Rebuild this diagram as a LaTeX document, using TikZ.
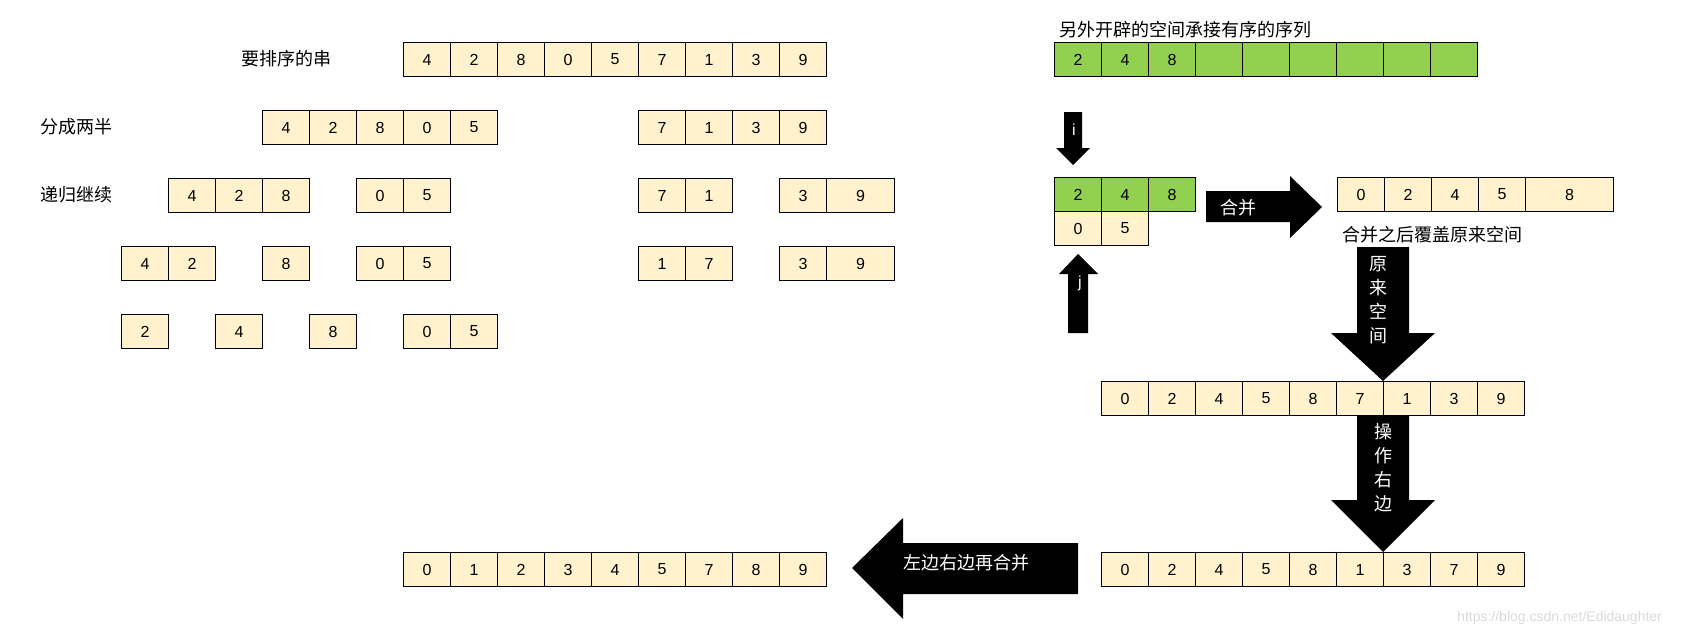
\documentclass[tikz,border=0pt]{standalone}
\usepackage{fontspec}
\setmainfont{Liberation Sans}
\newfontfamily\cjk{Noto Sans CJK SC}
\definecolor{cellyellow}{HTML}{FFF2CC}
\definecolor{cellgreen}{HTML}{92D050}
\begin{document}
\begin{tikzpicture}[x=1pt,y=-1pt,
  cell/.style={draw,line width=1.1pt,fill=cellyellow,minimum width=47pt,minimum height=34pt,
    inner sep=0pt,anchor=north west,font=\fontsize{16}{16}\selectfont},
  greencell/.style={cell,fill=cellgreen},
  widecell/.style={cell,minimum width=#1},
  hanzi/.style={font=\cjk\fontsize{18}{18}\selectfont,inner sep=0pt},
  blocktext/.style={font=\cjk\fontsize{18}{24}\selectfont,text=white,align=center,inner sep=0pt},
  block/.style={fill=black}]
\useasboundingbox (0,0) rectangle (1699,637);
% left: splitting
\node[hanzi,anchor=west] (tsort) at (241,59) {要排序的串};
\node[hanzi,anchor=west] (thalf) at (40,127) {分成两半};
\node[hanzi,anchor=west] (trec) at (40,195) {递归继续};
\foreach \v [count=\k from 0] in {4,2,8,0,5,7,1,3,9}
  \node[cell] (a\k) at ({403+47*\k},42) {\v};
\foreach \i/\v in {3/4,4/2,5/8,6/0,7/5,11/7,12/1,13/3,14/9}
  \node[cell] (b\i) at ({121+47*\i},110) {\v};
\foreach \i/\v in {1/4,2/2,3/8,5/0,6/5,11/7,12/1,14/3}
  \node[cell] (c\i) at ({121+47*\i},178) {\v};
\node[widecell=68pt] (c15) at (826,178) {9};
\foreach \i/\v in {0/4,1/2,3/8,5/0,6/5,11/1,12/7,14/3}
  \node[cell] (d\i) at ({121+47*\i},246) {\v};
\node[widecell=68pt] (d15) at (826,246) {9};
\foreach \i/\v in {0/2,2/4,4/8,6/0,7/5}
  \node[cell] (e\i) at ({121+47*\i},314) {\v};
% right: merging
\node[hanzi,anchor=west] (tspace) at (1059,30) {另外开辟的空间承接有序的序列};
\foreach \v [count=\k from 0] in {2,4,8,{},{},{},{},{},{}}
  \node[greencell] (g\k) at ({1054+47*\k},42) {\v};
\foreach \v [count=\k from 0] in {2,4,8}
  \node[greencell] (l\k) at ({1054+47*\k},177) {\v};
\foreach \v [count=\k from 0] in {0,5}
  \node[cell] (r\k) at ({1054+47*\k},211) {\v};
\foreach \v [count=\k from 0] in {0,2,4,5}
  \node[cell] (s\k) at ({1337+47*\k},177) {\v};
\node[widecell=88pt] (s4) at (1525,177) {8};
\node[hanzi,anchor=west] (tcover) at (1342,235) {合并之后覆盖原来空间};
\foreach \v [count=\k from 0] in {0,2,4,5,8,7,1,3,9}
  \node[cell] (m\k) at ({1101+47*\k},381) {\v};
\foreach \v [count=\k from 0] in {0,2,4,5,8,1,3,7,9}
  \node[cell] (n\k) at ({1101+47*\k},552) {\v};
\foreach \v [count=\k from 0] in {0,1,2,3,4,5,7,8,9}
  \node[cell] (f\k) at ({403+47*\k},552) {\v};
% block arrows
\fill[block] (1064,112) -- (1082,112) -- (1082,148) -- (1090,148) -- (1073,165) -- (1056,148) -- (1064,148) -- cycle;
\node[text=white,font=\fontsize{16}{16}\selectfont,inner sep=0pt] (ti) at (1074,130) {i};
\fill[block] (1078,254) -- (1098,274) -- (1088,274) -- (1088,333) -- (1068,333) -- (1068,274) -- (1059,274) -- cycle;
\node[text=white,font=\fontsize{16}{16}\selectfont,inner sep=0pt] (tj) at (1080,283) {j};
\fill[block] (1206,191) -- (1290,191) -- (1290,176) -- (1322,207) -- (1290,238) -- (1290,222) -- (1206,222) -- cycle;
\node[blocktext] (tmerge) at (1238,208) {合并};
\fill[block] (m6.north west) -- ++(52,-48) -- ++(-26,0) -- ++(0,-86) -- ++(-52,0) -- ++(0,86) -- ++(-26,0) -- cycle;
\node[blocktext] (torig) at (1378,300) {原\\来\\空\\间};
\fill[block] (n6.north west) -- ++(52,-52) -- ++(-26,0) -- ++(0,-85) -- ++(-52,0) -- ++(0,85) -- ++(-26,0) -- cycle;
\node[blocktext] (tright) at (1383,468) {操\\作\\右\\边};
\fill[block] (852,568) -- (903,518) -- (903,543) -- (1078,543) -- (1078,594) -- (903,594) -- (903,619) -- cycle;
\node[blocktext,anchor=west] (tagain) at (903,563) {左边右边再合并};
\node[anchor=west,text=gray!30,font=\fontsize{14}{14}\selectfont,inner sep=0pt] (wm) at (1457,618) {https://blog.csdn.net/Edidaughter};
\end{tikzpicture}
\end{document}
